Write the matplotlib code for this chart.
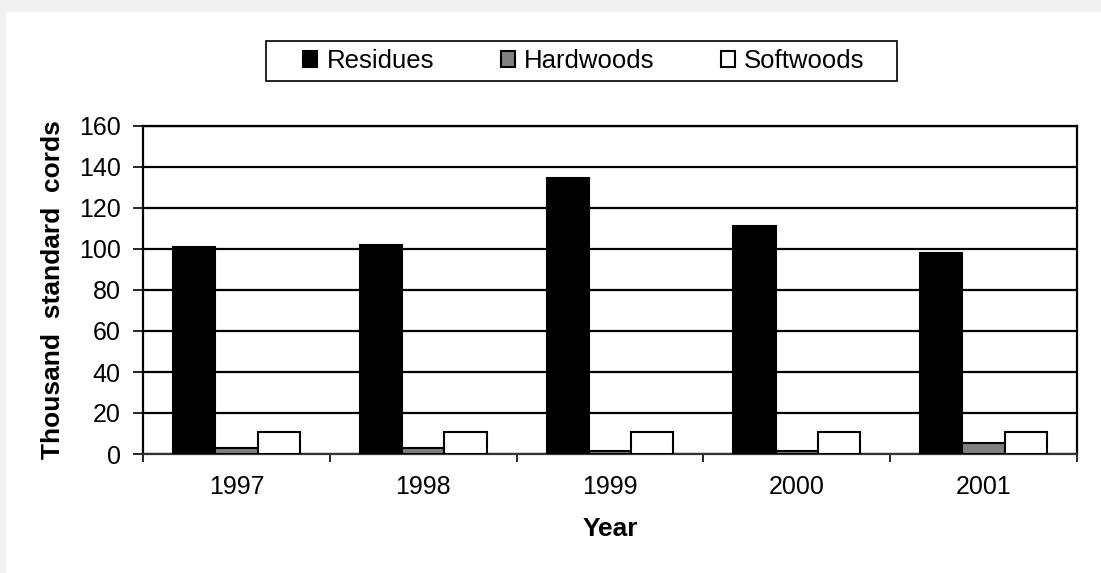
import matplotlib.pyplot as plt
import matplotlib.patches as mpatches
import numpy as np

plt.rcParams['font.family'] = ['Liberation Sans', 'DejaVu Sans']

years = ['1997', '1998', '1999', '2000', '2001']
residues = [101, 102, 134.5, 111, 98]
hardwoods = [3, 3, 1.5, 1.5, 5.5]
softwoods = [10.5, 10.5, 10.5, 10.5, 10.5]

W, H = 1101, 573
fig = plt.figure(figsize=(W / 100, H / 100), dpi=100)

# light gray page shadow along top and left edges
fig.patches.append(mpatches.Rectangle((0, 1 - 12 / H), 1, 12 / H, transform=fig.transFigure,
                                      facecolor='#f1f1f1', edgecolor='none', zorder=0))
fig.patches.append(mpatches.Rectangle((0, 0), 6 / W, 1, transform=fig.transFigure,
                                      facecolor='#f1f1f1', edgecolor='none', zorder=0))

ax = fig.add_axes([143 / W, 1 - 454 / H, (1077 - 143) / W, (454 - 126) / H])

x = np.arange(len(years))
w = 0.226
ax.bar(x - w, residues, w, color='black', edgecolor='black', linewidth=1.5, label='Residues', zorder=3)
ax.bar(x, hardwoods, w, color='#808080', edgecolor='black', linewidth=1.5, label='Hardwoods', zorder=3)
ax.bar(x + w, softwoods, w, color='white', edgecolor='black', linewidth=1.5, label='Softwoods', zorder=3)

ax.set_xlim(-0.5, len(years) - 0.5)
ax.set_ylim(0, 160)
ax.set_yticks(np.arange(0, 161, 20))
ax.yaxis.grid(True, color='black', linewidth=1.6, zorder=1)
ax.set_axisbelow(True)

ax.set_xticks(x)
ax.set_xticklabels(years)
ax.set_xticks(np.arange(-0.5, len(years)), minor=True)
ax.tick_params(axis='x', which='major', length=0, pad=15, labelsize=18)
ax.tick_params(axis='x', which='minor', length=6, width=1.2, direction='out')
ax.tick_params(axis='y', length=7, width=1.2, direction='out', pad=9, labelsize=18)

for side in ['left', 'bottom', 'right', 'top']:
    ax.spines[side].set_linewidth(1.6)
    ax.spines[side].set_color('black')
ax.spines['bottom'].set_color('#333333')

ax.set_ylabel('Thousand  standard  cords', fontsize=19, fontweight='bold', labelpad=10)
ax.set_xlabel('Year', fontsize=19, fontweight='bold', labelpad=13)

# legend frame drawn by hand so it can be wide and short like the original
fig.patches.append(mpatches.Rectangle((266 / W, 1 - 81 / H), (897 - 266) / W, 40 / H,
                                      transform=fig.transFigure, facecolor='white',
                                      edgecolor='black', linewidth=1.2, zorder=2))
leg = fig.legend(loc='center', bbox_to_anchor=(584 / W, 1 - 61 / H), ncol=3, frameon=False,
                 fontsize=18.5, handlelength=0.55, handleheight=0.55,
                 handletextpad=0.35, columnspacing=2.6, borderpad=0.2)
leg.set_zorder(5)

plt.savefig('out.png', dpi=100)
plt.close(fig)
